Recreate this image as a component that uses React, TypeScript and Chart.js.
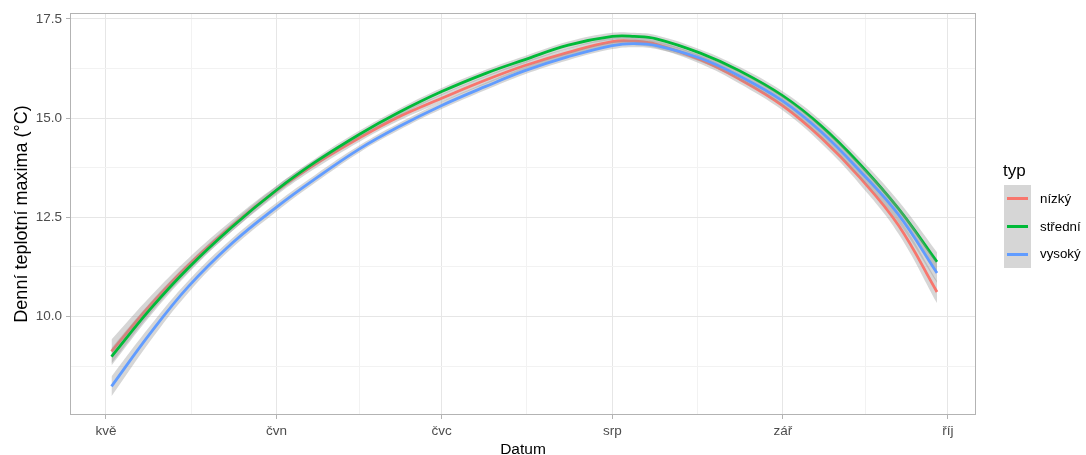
import React, { useEffect, useRef } from "react";
import { Chart, registerables } from "chart.js";

Chart.register(...registerables);

// Day of year (non-leap year)
const days = [122, 129, 136, 144, 152, 159, 167, 174, 182, 190, 197, 205, 213, 217, 221, 229, 236, 244, 251, 258, 265, 272];

const seriesNames = ["nízký", "střední", "vysoký"];
const seriesColors = ["#F8766D", "#00BA38", "#619CFF"];

const nizky = [9.12, 10.28, 11.3, 12.3, 13.18, 13.84, 14.5, 15.02, 15.5, 15.96, 16.32, 16.66, 16.93, 16.94, 16.86, 16.47, 15.99, 15.31, 14.5, 13.5, 12.3, 10.62];
const stredni = [8.99, 10.18, 11.23, 12.27, 13.19, 13.89, 14.59, 15.13, 15.67, 16.13, 16.47, 16.84, 17.06, 17.06, 17.0, 16.64, 16.2, 15.56, 14.8, 13.84, 12.72, 11.38];
const vysoky = [8.24, 9.57, 10.76, 11.86, 12.76, 13.47, 14.22, 14.77, 15.32, 15.8, 16.19, 16.55, 16.83, 16.88, 16.83, 16.51, 16.07, 15.43, 14.65, 13.67, 12.57, 11.1];

// confidence band half-widths
const nizkyCI = [0.3, 0.22, 0.17, 0.14, 0.12, 0.11, 0.1, 0.1, 0.1, 0.1, 0.1, 0.1, 0.1, 0.1, 0.1, 0.1, 0.11, 0.12, 0.14, 0.17, 0.21, 0.28];
const stredniCI = [0.22, 0.17, 0.13, 0.11, 0.1, 0.09, 0.09, 0.09, 0.09, 0.09, 0.09, 0.09, 0.09, 0.09, 0.09, 0.09, 0.1, 0.11, 0.13, 0.15, 0.19, 0.24];
const vysokyCI = [0.25, 0.19, 0.15, 0.12, 0.11, 0.1, 0.09, 0.09, 0.09, 0.09, 0.09, 0.09, 0.09, 0.09, 0.09, 0.09, 0.1, 0.11, 0.13, 0.16, 0.2, 0.25];

const xMajorTicks = [121, 152, 182, 213, 244, 274];
const xTickLabels = ["kvě", "čvn", "čvc", "srp", "zář", "říj"];
const xMinorTicks = [136.5, 167, 197.5, 228.5, 259];
const yMajorTicks = [10, 12.5, 15, 17.5];
const yTickLabels = ["10.0", "12.5", "15.0", "17.5"];
const yMinorTicks = [8.75, 11.25, 13.75, 16.25];

const FONT = '"Liberation Sans", Arial, Helvetica, sans-serif';

export default function App() {
  const canvasRef = useRef<HTMLCanvasElement | null>(null);

  useEffect(() => {
    document.body.style.margin = "0";
    const canvas = canvasRef.current;
    if (!canvas) return;

    const values = [nizky, stredni, vysoky];
    const cis = [nizkyCI, stredniCI, vysokyCI];
    const datasets: any[] = [];
    values.forEach((vals, g) => {
      const base = 100 - g * 10;
      datasets.push({
        label: seriesNames[g] + " upper",
        data: days.map((d, i) => ({ x: d, y: vals[i] + cis[g][i] })),
        borderWidth: 0,
        borderColor: "rgba(0,0,0,0)",
        pointRadius: 0,
        fill: false,
        order: base - 1,
        tension: 0.4,
      });
      datasets.push({
        label: seriesNames[g] + " lower",
        data: days.map((d, i) => ({ x: d, y: vals[i] - cis[g][i] })),
        borderWidth: 0,
        borderColor: "rgba(0,0,0,0)",
        backgroundColor: "rgba(153,153,153,0.4)",
        pointRadius: 0,
        fill: "-1",
        order: base - 2,
        tension: 0.4,
      });
      datasets.push({
        label: seriesNames[g],
        data: days.map((d, i) => ({ x: d, y: vals[i] })),
        borderWidth: 2.8,
        borderColor: seriesColors[g],
        borderCapStyle: "butt",
        pointRadius: 0,
        fill: false,
        order: base - 3,
        tension: 0.4,
      });
    });

    const isMajorX = (v: number) => xMajorTicks.includes(v);
    const isMajorY = (v: number) => yMajorTicks.includes(v);

    const borderPlugin = {
      id: "panelBorder",
      afterDatasetsDraw(chart: any) {
        const { ctx, chartArea } = chart;
        ctx.save();
        ctx.strokeStyle = "#B3B3B3";
        ctx.lineWidth = 1;
        ctx.strokeRect(
          chartArea.left + 0.5,
          chartArea.top + 0.5,
          chartArea.right - chartArea.left - 1,
          chartArea.bottom - chartArea.top - 1
        );
        ctx.restore();
      },
    };

    const chart = new Chart(canvas, {
      type: "line",
      data: { datasets },
      options: {
        animation: false,
        responsive: false,
        layout: { padding: { top: 13, right: 110, left: 0, bottom: 0 } },
        plugins: {
          legend: { display: false },
          tooltip: { enabled: false },
        },
        elements: { point: { radius: 0 } },
        scales: {
          x: {
            type: "linear",
            min: 114.46,
            max: 279.09,
            afterBuildTicks: (s: any) => {
              s.ticks = [...xMajorTicks, ...xMinorTicks].sort((a, b) => a - b).map((v) => ({ value: v }));
            },
            afterFit: (s: any) => {
              s.height = 40;
            },
            ticks: {
              autoSkip: false,
              maxRotation: 0,
              padding: 4,
              color: "#4D4D4D",
              font: { family: FONT, size: 13.5 },
              callback: (v: any) => {
                const i = xMajorTicks.indexOf(Number(v));
                return i >= 0 ? xTickLabels[i] : "";
              },
            },
            grid: {
              color: (c: any) => (isMajorX(c.tick?.value) ? "#E6E6E6" : "#F2F2F2"),
              lineWidth: 1,
              tickLength: 4,
              tickColor: (c: any) => (isMajorX(c.tick?.value) ? "#B3B3B3" : "rgba(0,0,0,0)"),
              tickWidth: 1,
            },
            border: { display: false },
            title: {
              display: true,
              text: "Datum",
              color: "#000000",
              font: { family: FONT, size: 15.5, lineHeight: 1 },
              padding: { top: 0, bottom: -2 },
            },
          },
          y: {
            type: "linear",
            min: 7.52,
            max: 17.65,
            afterBuildTicks: (s: any) => {
              s.ticks = [...yMajorTicks, ...yMinorTicks].sort((a, b) => a - b).map((v) => ({ value: v }));
            },
            afterFit: (s: any) => {
              s.width = 70;
            },
            ticks: {
              autoSkip: false,
              padding: 4,
              color: "#4D4D4D",
              font: { family: FONT, size: 13.5 },
              callback: (v: any) => {
                const i = yMajorTicks.indexOf(Number(v));
                return i >= 0 ? yTickLabels[i] : "";
              },
            },
            grid: {
              color: (c: any) => (isMajorY(c.tick?.value) ? "#E6E6E6" : "#F2F2F2"),
              lineWidth: 1,
              tickLength: 4,
              tickColor: (c: any) => (isMajorY(c.tick?.value) ? "#B3B3B3" : "rgba(0,0,0,0)"),
              tickWidth: 1,
            },
            border: { display: false },
            title: {
              display: true,
              text: "Denní teplotní maxima (°C)",
              color: "#000000",
              font: { family: FONT, size: 18 },
              padding: { top: 11, bottom: 0 },
            },
          },
        },
      } as any,
      plugins: [borderPlugin],
    });

    return () => {
      chart.destroy();
    };
  }, []);

  const keyH = 27.7;
  return (
    <div style={{ position: "relative", width: 1086, height: 455, background: "#FFFFFF" }}>
      <canvas ref={canvasRef} width={1086} height={455} style={{ display: "block" }} />
      <div
        style={{
          position: "absolute",
          left: 1003,
          top: 161,
          fontFamily: FONT,
          fontSize: 17,
          lineHeight: "20px",
          color: "#000",
        }}
      >
        typ
      </div>
      {seriesNames.map((name, i) => (
        <React.Fragment key={name}>
          <div
            style={{
              position: "absolute",
              left: 1004,
              top: 185 + i * keyH,
              width: 27,
              height: keyH,
              background: "#D6D6D6",
            }}
          >
            <div
              style={{
                position: "absolute",
                left: 3,
                right: 3,
                top: keyH / 2 - 1.5,
                height: 3,
                background: seriesColors[i],
              }}
            />
          </div>
          <div
            style={{
              position: "absolute",
              left: 1040,
              top: 185 + i * keyH,
              height: keyH,
              lineHeight: keyH + "px",
              fontFamily: FONT,
              fontSize: 13.3,
              color: "#000",
              whiteSpace: "nowrap",
            }}
          >
            {name}
          </div>
        </React.Fragment>
      ))}
    </div>
  );
}
